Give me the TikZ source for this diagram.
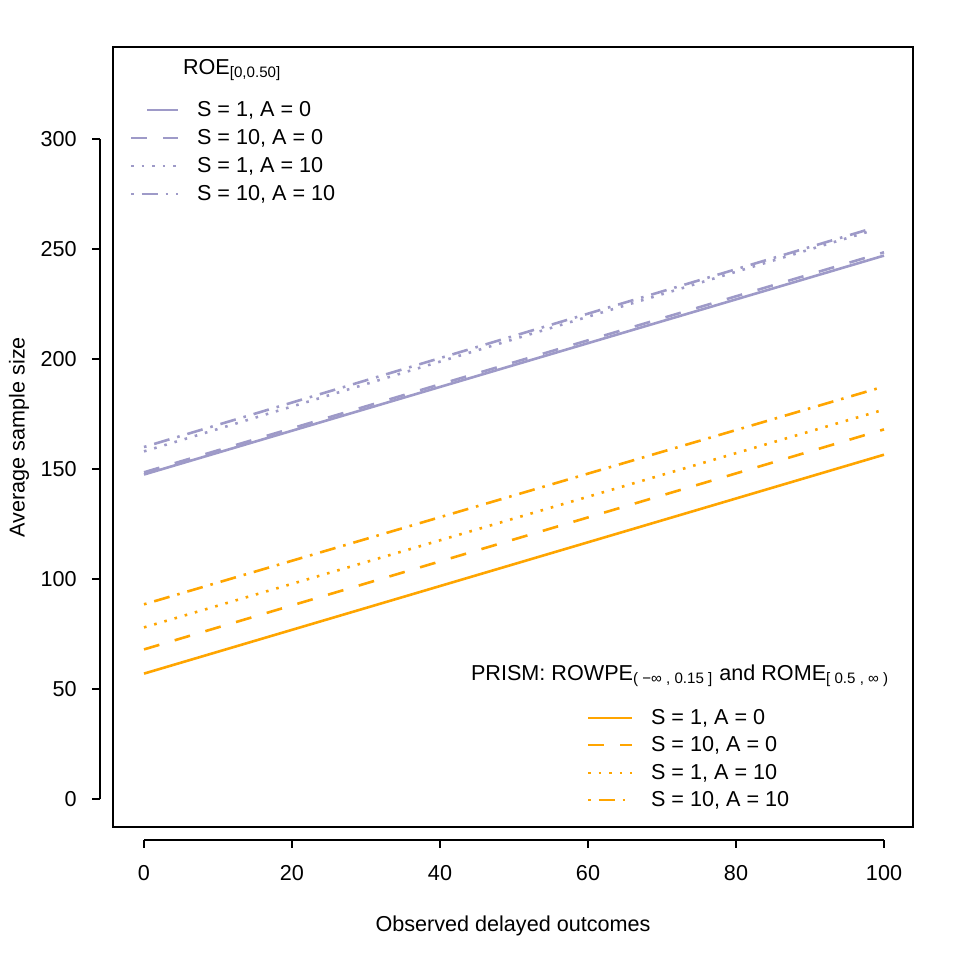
\documentclass[tikz,border=0pt]{standalone}
\usepackage{fontspec}
\setmainfont{Liberation Sans}
\definecolor{roe}{HTML}{9E9AC8}
\definecolor{prism}{HTML}{FFA500}
\tikzset{
  plotline/.style={line width=1.3pt},
  dashedline/.style={plotline, dash pattern=on 8pt off 8pt},
  dottedline/.style={plotline, dash pattern=on 1.3pt off 4pt},
  dotdashline/.style={plotline, dash pattern=on 1.3pt off 4pt on 8pt off 4pt},
  ticklabel/.style={font=\fontsize{10.8}{13}\selectfont},
  legendtext/.style={font=\fontsize{10.8}{13}\selectfont, anchor=west}
}
\newcommand{\px}[1]{{144+7.4*(#1)}}
\newcommand{\py}[1]{{799-2.2*(#1)}}
\begin{document}
\begin{tikzpicture}[x=0.5pt, y=-0.5pt]
\useasboundingbox (0,0) rectangle (969,969);

% plot region
\draw[line width=0.6pt] (113,47) rectangle (913,827);

% x axis
\draw[line width=0.6pt] (144,840) -- (884,840);
\foreach \v in {0,20,...,100}
  \draw[line width=0.6pt] ({144+7.4*\v},840) -- ({144+7.4*\v},848)
    node[ticklabel, anchor=north, yshift=-5pt] {\v};
\node[ticklabel] (xlab) at (513,926) {Observed delayed outcomes};

% y axis
\draw[line width=0.6pt] (100,799) -- (100,139);
\foreach \v in {0,50,...,300}
  \draw[line width=0.6pt] (100,{799-2.2*\v}) -- (92,{799-2.2*\v})
    node[ticklabel, anchor=east, xshift=-4pt] {\v};
\node[ticklabel, rotate=90] (ylab) at (19,437) {Average sample size};

% data lines
\draw[plotline, roe] (\px{0},\py{147.5}) -- (\px{100},\py{247});
\draw[dashedline, roe] (\px{0},\py{148.5}) -- (\px{100},\py{248.5});
\draw[dottedline, roe] (\px{0},\py{158}) -- (\px{98},\py{258});
\draw[dotdashline, roe] (\px{0},\py{160}) -- (\px{98},\py{259});
\draw[plotline, prism] (\px{0},\py{57}) -- (\px{100},\py{156.5});
\draw[dashedline, prism] (\px{0},\py{68}) -- (\px{100},\py{168});
\draw[dottedline, prism] (\px{0},\py{78}) -- (\px{100},\py{177});
\draw[dotdashline, prism] (\px{0},\py{88.5}) -- (\px{100},\py{187.5});

% legend ROE
\node[legendtext] (roetitle) at (176,70) {ROE\textsubscript{[0,0.50]}};
\draw[plotline, roe] (147,110) -- (178,110);
\node[legendtext] (roe1) at (190,110) {S = 1, A = 0};
\draw[dashedline, roe] (131,138) -- (178,138);
\node[legendtext] (roe2) at (190,138) {S = 10, A = 0};
\draw[dottedline, roe] (131,166) -- (178,166);
\node[legendtext] (roe3) at (190,166) {S = 1, A = 10};
\draw[dotdashline, roe] (131,194) -- (178,194);
\node[legendtext] (roe4) at (190,194) {S = 10, A = 10};

% legend PRISM
\node[legendtext] (prismtitle) at (464,676) {PRISM: ROWPE\textsubscript{( −∞ , 0.15 ]} and ROME\textsubscript{[ 0.5 , ∞ )}};
\draw[plotline, prism] (588,718) -- (632,718);
\node[legendtext] (prism1) at (644,718) {S = 1, A = 0};
\draw[dashedline, prism] (588,745) -- (632,745);
\node[legendtext] (prism2) at (644,745) {S = 10, A = 0};
\draw[dottedline, prism] (588,773) -- (632,773);
\node[legendtext] (prism3) at (644,773) {S = 1, A = 10};
\draw[dotdashline, prism] (588,800) -- (632,800);
\node[legendtext] (prism4) at (644,800) {S = 10, A = 10};
\end{tikzpicture}
\end{document}
